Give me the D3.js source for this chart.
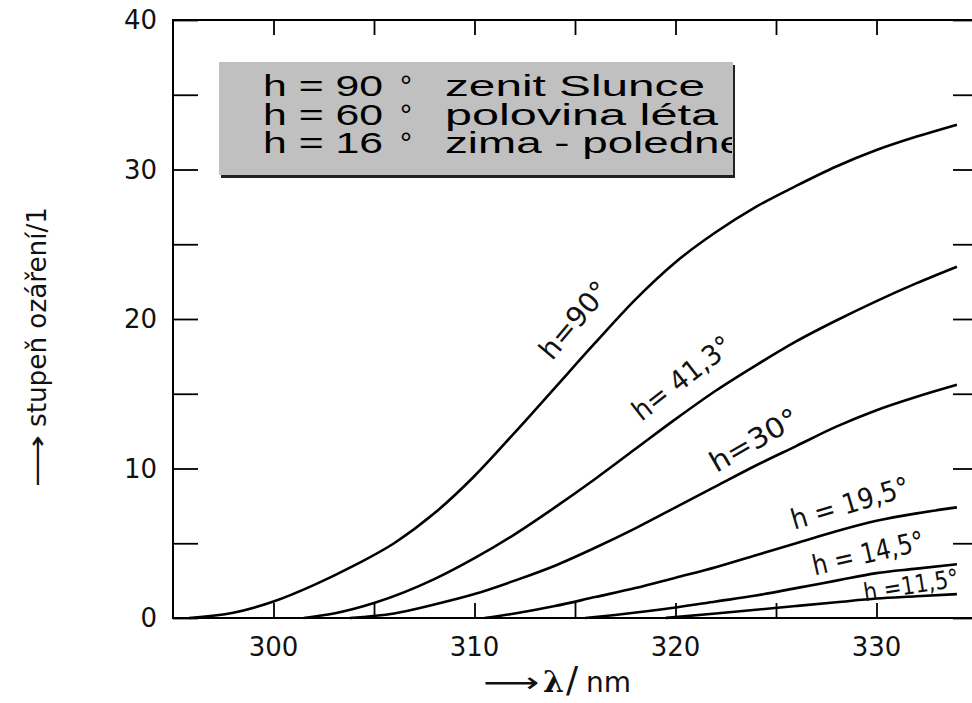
<!DOCTYPE html>
<html><head><meta charset="utf-8">
<script src="https://cdn.jsdelivr.net/npm/d3@7"></script>
<style>
html,body{margin:0;padding:0;background:#fff;}
svg{display:block;}
</style>
</head><body>
<svg id="c" width="972" height="703"></svg>
<script>
// ---- data ----
const xTickValues = [300,305,310,315,320,325,330,335];
const xTickLabels = [300,310,320,330];
const yTickValues = [0,5,10,15,20,25,30,35,40];
const yTickLabels = [0,10,20,30,40];

const curveNames = ["h=90°","h= 41,3°","h=30°","h = 19,5°","h = 14,5°","h =11,5°"];
const lam90 = [295.8,298,300,302,304,306,308,310,312,314,316,318,320,322,324,326,328,330,332,334];
const val90 = [0,0.35,1.1,2.2,3.5,5.0,7.0,9.5,12.4,15.4,18.4,21.3,23.8,25.8,27.5,28.9,30.2,31.3,32.2,33.0];
const lam41 = [301.5,303,305,308,310,312,314,316,318,320,322,324,326,328,330,332,334];
const val41 = [0,0.3,1.0,2.6,4.0,5.6,7.4,9.3,11.3,13.3,15.2,16.9,18.5,19.9,21.2,22.4,23.5];
const lam30 = [303.8,306,308,310,312,314,316,318,320,322,324,326,328,330,332,334];
const val30 = [0,0.3,0.9,1.6,2.5,3.5,4.7,6.0,7.4,8.8,10.2,11.5,12.8,13.9,14.8,15.6];
const lam19 = [310.5,312,314,316,318,320,322,324,326,328,330,332,334];
const val19 = [0,0.3,0.8,1.4,2.0,2.7,3.4,4.2,5.0,5.8,6.5,7.0,7.4];
const lam14 = [315.5,317,320,322,324,326,328,330,332,334];
const val14 = [0,0.2,0.7,1.1,1.5,2.0,2.5,3.0,3.3,3.6];
const lam11 = [319.5,322,324,326,328,330,332,334];
const val11 = [0,0.3,0.55,0.8,1.05,1.3,1.45,1.6];

const legendAngles = ["h = 90","h = 60","h = 16"];
const legendDesc = ["zenit Slunce","polovina léta","zima - poledne"];

// ---- drawing ----
const svg = d3.select("#c");
const x = d3.scaleLinear().domain([295,335]).range([173,977]);
const y = d3.scaleLinear().domain([0,40]).range([618,20]);

const series = [
  {lam:lam90,val:val90},{lam:lam41,val:val41},{lam:lam30,val:val30},
  {lam:lam19,val:val19},{lam:lam14,val:val14},{lam:lam11,val:val11}
];

// frame
const frame = svg.append("g").attr("stroke","#000").attr("stroke-width",2).attr("fill","none");
frame.append("line").attr("x1",x(295)).attr("x2",x(295)).attr("y1",y(40)-1).attr("y2",y(0)+1);
frame.append("line").attr("x1",x(295)).attr("x2",x(335)).attr("y1",y(40)).attr("y2",y(40));
frame.append("line").attr("x1",x(295)).attr("x2",x(335)).attr("y1",y(0)).attr("y2",y(0));
frame.append("line").attr("x1",x(335)).attr("x2",x(335)).attr("y1",y(40)).attr("y2",y(0));

// axes via d3 axes (ticks inward)
const axB = d3.axisBottom(x).tickValues(xTickValues).tickSize(-15).tickFormat("");
const axT = d3.axisTop(x).tickValues(xTickValues).tickSize(-15).tickFormat("");
const axL = d3.axisLeft(y).tickValues(yTickValues).tickSize(-25).tickFormat("");
const axR = d3.axisRight(y).tickValues(yTickValues).tickSize(-24).tickFormat("");
[[axB,`translate(0,${y(0)})`],[axT,`translate(0,${y(40)})`],[axL,`translate(${x(295)},0)`],[axR,`translate(${x(335)},0)`]]
 .forEach(([a,t])=>{
   const g = svg.append("g").attr("transform",t).call(a);
   g.select(".domain").remove();
   g.selectAll(".tick line").attr("stroke","#000").attr("stroke-width",1.8);
 });

// tick labels
svg.append("g").selectAll("text").data(xTickLabels).join("text")
  .attr("x",d=>x(d)).attr("y",656).attr("text-anchor","middle")
  .attr("font-family","DejaVu Sans").attr("font-size",26).attr("fill","#111")
  .text(d=>d);
svg.append("g").selectAll("text").data(yTickLabels).join("text")
  .attr("x",157).attr("y",d=>y(d)+9).attr("text-anchor","end")
  .attr("font-family","DejaVu Sans").attr("font-size",26).attr("fill","#111")
  .text(d=>d);

// curves
const line = d3.line().x(d=>x(d[0])).y(d=>y(d[1])).curve(d3.curveMonotoneX);
svg.append("g").selectAll("path").data(series).join("path")
  .attr("d",s=>line(s.lam.map((l,i)=>[l,s.val[i]])))
  .attr("fill","none").attr("stroke","#000").attr("stroke-width",2.6);

// curve labels
const labelPos = [
  {cx:574,cy:320,rot:-50,len:92,fs:28},
  {cx:682,cy:378,rot:-38,len:118,fs:28},
  {cx:754,cy:440,rot:-30,len:98,fs:28},
  {cx:850,cy:503,rot:-16.5,len:122,fs:28},
  {cx:868,cy:553,rot:-13,len:114,fs:28},
  {cx:911,cy:585,rot:-9,len:96,fs:25}
];
svg.append("g").selectAll("text").data(curveNames).join("text")
  .attr("transform",(d,i)=>`translate(${labelPos[i].cx},${labelPos[i].cy}) rotate(${labelPos[i].rot})`)
  .attr("text-anchor","middle").attr("dy","0.35em")
  .attr("textLength",(d,i)=>labelPos[i].len).attr("lengthAdjust","spacingAndGlyphs")
  .attr("font-family","DejaVu Sans Condensed, DejaVu Sans").attr("font-size",(d,i)=>labelPos[i].fs).attr("fill","#111")
  .text(d=>d);

// legend box
const lg = svg.append("g");
lg.append("rect").attr("x",221).attr("y",65).attr("width",514).attr("height",113).attr("fill","#222");
lg.append("rect").attr("x",219).attr("y",62).attr("width",514).attr("height",113).attr("fill","#c0c0c0");
const clip = svg.append("defs").append("clipPath").attr("id","lgclip");
clip.append("rect").attr("x",219).attr("y",62).attr("width",513).attr("height",113);
const lt = lg.append("g").attr("clip-path","url(#lgclip)")
  .attr("font-family","Liberation Sans, Arial").attr("font-size",30).attr("fill","#000");
const descLen = [260,273,300];
legendAngles.forEach((t,i)=>{
  const by = 96 + i*28.5;
  const tx = lt.append("text").attr("y",by);
  tx.append("tspan").attr("x",263).attr("textLength",120).attr("lengthAdjust","spacingAndGlyphs").text(t);
  tx.append("tspan").attr("x",400).text("°");
  tx.append("tspan").attr("x",445).attr("textLength",descLen[i]).attr("lengthAdjust","spacingAndGlyphs").text(legendDesc[i]);
});

// axis titles
svg.append("text").attr("transform","translate(46,487) rotate(-90)")
  .attr("text-anchor","start").attr("font-family","DejaVu Sans").attr("font-size",26).attr("fill","#111")
  .attr("textLength",52).attr("lengthAdjust","spacingAndGlyphs")
  .text("⟶");
svg.append("text").attr("transform","translate(46,427) rotate(-90)")
  .attr("text-anchor","start").attr("font-family","DejaVu Sans Condensed, DejaVu Sans").attr("font-size",26).attr("fill","#111")
  .attr("textLength",220).attr("lengthAdjust","spacingAndGlyphs")
  .text("stupeň ozáření/1");
const xt = svg.append("text").attr("y",692)
  .attr("font-family","DejaVu Sans").attr("font-size",28).attr("fill","#111");
xt.append("tspan").attr("x",483).attr("textLength",56).attr("lengthAdjust","spacingAndGlyphs").text("⟶");
xt.append("tspan").attr("x",543).attr("font-weight","bold").attr("font-family","DejaVu Serif").attr("font-size",30).text("λ");
xt.append("tspan").attr("x",566).attr("font-size",36).text("/");
xt.append("tspan").attr("x",586).text("nm");
</script>
</body></html>
